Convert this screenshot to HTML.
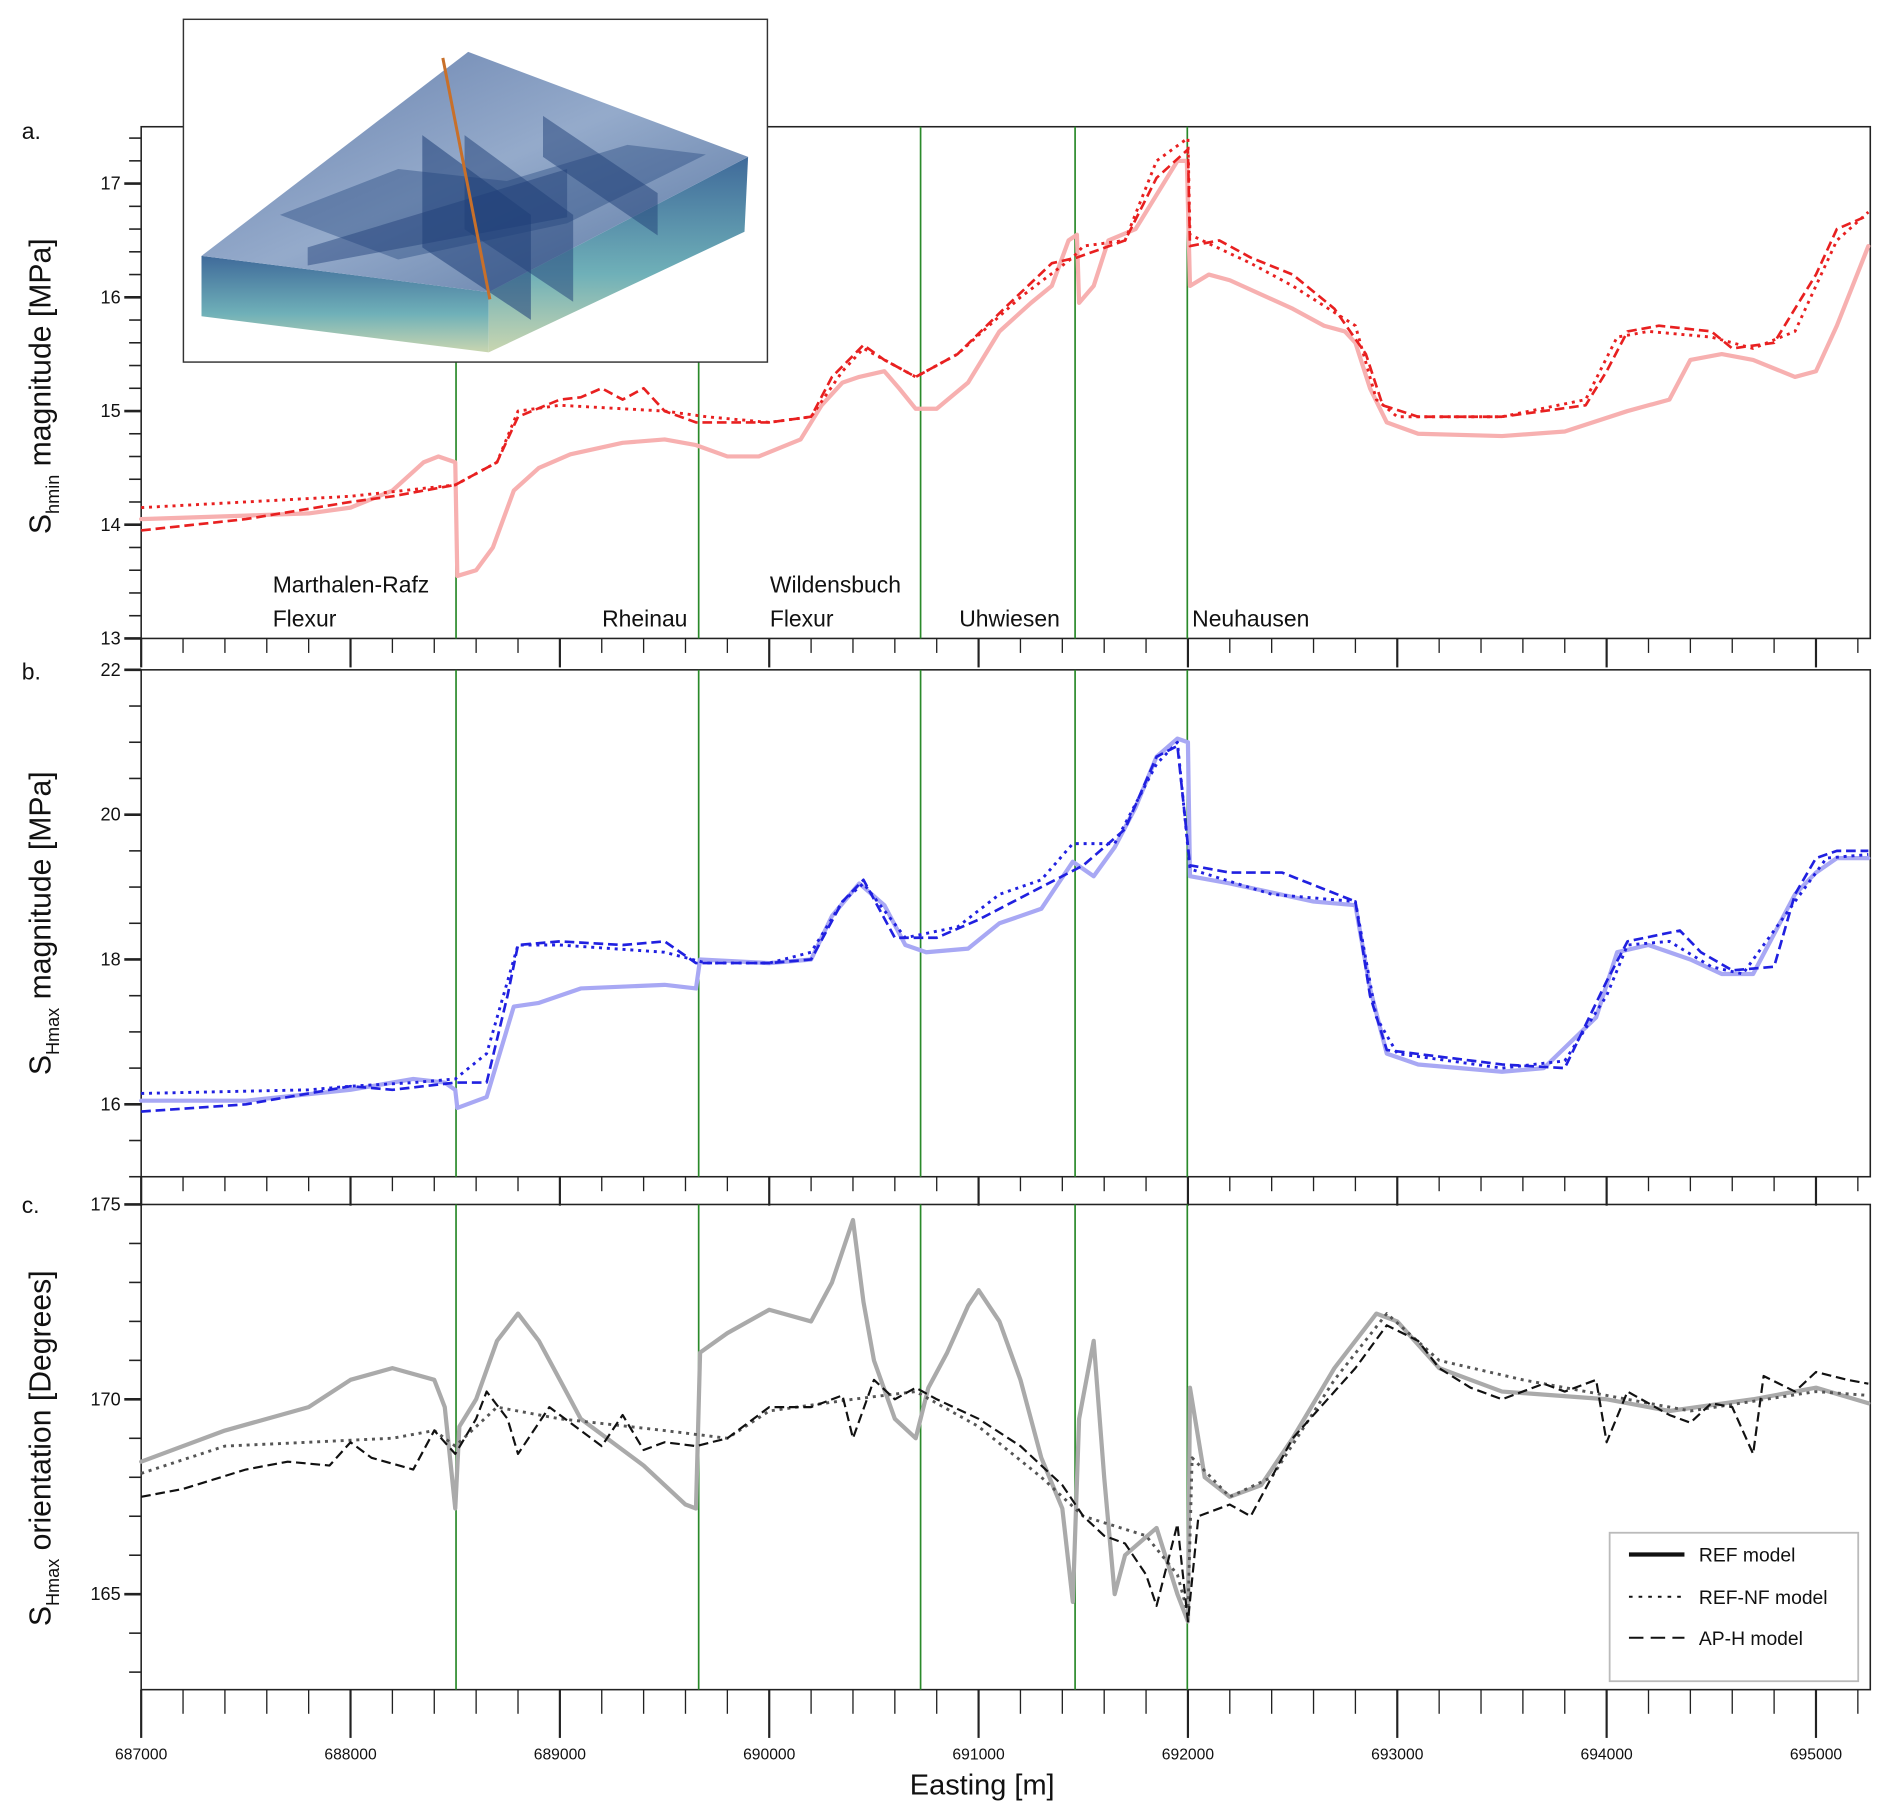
<!DOCTYPE html>
<html><head><meta charset="utf-8"><style>
html,body{margin:0;padding:0;background:#fff}
svg{display:block}
text{font-family:"Liberation Sans","DejaVu Sans",sans-serif}
</style></head><body>
<svg id="chart" xmlns="http://www.w3.org/2000/svg" width="1892" height="1820" viewBox="0 0 1568 1508" preserveAspectRatio="none">
<rect width="1568" height="1508" fill="#fff"/>
<g id="layer"></g>
<g id="inset">
  <defs>
    <linearGradient id="sideG" x1="0" y1="0" x2="0" y2="1">
      <stop offset="0" stop-color="#3f6a9a"/><stop offset="0.6" stop-color="#6fb0b8"/><stop offset="1" stop-color="#c9d6b0"/>
    </linearGradient>
    <linearGradient id="topG" x1="0" y1="0" x2="1" y2="1">
      <stop offset="0" stop-color="#5d78a8"/><stop offset="0.5" stop-color="#8fa6c8"/><stop offset="1" stop-color="#4f6e9c"/>
    </linearGradient>
  </defs>
  <rect x="152" y="16" width="484" height="284" fill="#fff" stroke="#333" stroke-width="1.2"/>
  <polygon points="167,212 405,242 405,292 167,262" fill="url(#sideG)"/>
  <polygon points="405,242 620,130 617,192 405,292" fill="url(#sideG)"/>
  <polygon points="167,212 388,43 620,130 405,242" fill="url(#topG)" opacity="0.95"/>
  <polygon points="232,178 330,140 420,150 520,120 585,128 470,185 330,215" fill="#2e4f86" opacity="0.45"/>
  <polygon points="350,112 440,178 440,265 350,205" fill="#1f3f78" opacity="0.55"/>
  <polygon points="385,112 475,178 475,250 385,190" fill="#1f3f78" opacity="0.5"/>
  <polygon points="450,96 545,160 545,195 450,130" fill="#1f3f78" opacity="0.5"/>
  <polygon points="255,205 470,140 470,180 255,220" fill="#1f3f78" opacity="0.45"/>
  <line x1="367" y1="48" x2="406" y2="248" stroke="#c8702a" stroke-width="2.5"/>
</g>
</svg>
<script>
// ---------- data ----------
const faultEastings = [688504, 689663, 690723, 691461, 691997];
const faultNames = ["Marthalen-Rafz Flexur","Rheinau","Wildensbuch Flexur","Uhwiesen","Neuhausen"];
const xTicks = [687000,688000,689000,690000,691000,692000,693000,694000,695000];

const aRefX=[687000,687500,687800,688000,688200,688350,688420,688500,688510,688600,688680,688780,688900,689050,689300,689500,689650,689800,689950,690150,690250,690350,690430,690550,690620,690700,690800,690950,691100,691250,691350,691430,691470,691480,691550,691620,691750,691850,691950,691995,692010,692100,692200,692500,692650,692750,692800,692870,692950,693100,693500,693800,694100,694300,694400,694550,694700,694900,695000,695100,695250];
const aRefY=[14.05,14.08,14.1,14.15,14.3,14.55,14.6,14.55,13.55,13.6,13.8,14.3,14.5,14.62,14.72,14.75,14.7,14.6,14.6,14.75,15.05,15.25,15.3,15.35,15.2,15.02,15.02,15.25,15.7,15.95,16.1,16.5,16.55,15.95,16.1,16.5,16.6,16.9,17.2,17.2,16.1,16.2,16.15,15.9,15.75,15.7,15.6,15.2,14.9,14.8,14.78,14.82,15.0,15.1,15.45,15.5,15.45,15.3,15.35,15.75,16.45];
const aNfX=[687000,688000,688500,688700,688800,689000,689500,689700,690000,690200,690350,690450,690600,690700,690900,691200,691450,691500,691700,691850,692000,692010,692300,692500,692800,692900,693000,693500,693900,694050,694200,694500,694700,694900,695100,695250];
const aNfY=[14.15,14.25,14.35,14.55,15.0,15.05,15.0,14.95,14.9,14.95,15.35,15.55,15.4,15.3,15.5,16.0,16.35,16.45,16.5,17.2,17.4,16.55,16.3,16.1,15.75,15.1,14.95,14.95,15.1,15.65,15.7,15.65,15.55,15.7,16.5,16.75];
const aApX=[687000,687500,688000,688200,688500,688700,688800,689000,689100,689200,689300,689400,689500,689650,690000,690200,690300,690450,690550,690700,690900,691150,691350,691470,691700,691850,692000,692010,692150,692300,692500,692700,692850,692930,693100,693500,693900,694000,694100,694250,694500,694600,694800,694900,695000,695100,695250];
const aApY=[13.95,14.05,14.2,14.25,14.35,14.55,14.95,15.1,15.12,15.2,15.1,15.2,15.0,14.9,14.9,14.95,15.3,15.58,15.45,15.3,15.5,15.95,16.3,16.35,16.5,17.05,17.3,16.45,16.5,16.35,16.2,15.9,15.5,15.05,14.95,14.95,15.05,15.35,15.7,15.75,15.7,15.55,15.6,15.9,16.2,16.6,16.72];

const bRefX=[687000,687500,688000,688300,688450,688500,688510,688650,688780,688900,689100,689500,689650,689670,690000,690200,690300,690430,690550,690650,690750,690950,691100,691300,691450,691550,691650,691750,691850,691950,692000,692010,692200,692600,692800,692870,692950,693100,693500,693700,693950,694050,694200,694400,694550,694700,694900,695000,695100,695250];
const bRefY=[16.05,16.05,16.2,16.35,16.3,16.2,15.95,16.1,17.35,17.4,17.6,17.65,17.6,18.0,17.95,18.0,18.6,19.05,18.75,18.2,18.1,18.15,18.5,18.7,19.35,19.15,19.55,20.1,20.8,21.05,21.0,19.15,19.05,18.8,18.75,17.6,16.7,16.55,16.45,16.5,17.2,18.1,18.2,18.0,17.8,17.8,18.9,19.2,19.4,19.4];
const bNfX=[687000,687800,688000,688300,688500,688650,688800,689000,689500,689700,690000,690200,690350,690450,690650,690900,691100,691300,691450,691650,691850,691950,692010,692400,692800,692900,693000,693500,693800,694000,694100,694300,694500,694650,694900,695050,695250];
const bNfY=[16.15,16.2,16.25,16.3,16.35,16.7,18.2,18.2,18.1,17.95,17.95,18.1,18.8,19.05,18.3,18.45,18.9,19.1,19.6,19.6,20.7,21.0,19.25,18.9,18.8,17.2,16.7,16.5,16.6,17.5,18.2,18.25,17.9,17.8,18.8,19.4,19.45];
const bApX=[687000,687500,688000,688200,688500,688650,688750,688800,689000,689300,689500,689650,690000,690200,690350,690450,690600,690800,691000,691300,691500,691700,691850,691950,692010,692200,692450,692800,692870,692950,693500,693800,694000,694100,694350,694450,694600,694800,694900,695000,695100,695250];
const bApY=[15.9,16.0,16.25,16.2,16.3,16.3,17.5,18.2,18.25,18.2,18.25,17.95,17.95,18.0,18.8,19.1,18.3,18.3,18.55,19.0,19.3,19.8,20.8,20.95,19.3,19.2,19.2,18.8,17.5,16.75,16.55,16.5,17.7,18.25,18.4,18.1,17.85,17.9,18.9,19.4,19.5,19.5];

const cRefX=[687000,687400,687800,688000,688200,688400,688450,688500,688520,688600,688700,688800,688900,689000,689100,689400,689600,689650,689670,689800,690000,690200,690300,690400,690450,690500,690600,690700,690760,690850,690950,691000,691100,691200,691300,691400,691450,691480,691550,691600,691650,691700,691850,691950,692000,692010,692080,692200,692350,692500,692700,692900,693000,693200,693500,694000,694300,694700,695000,695250];
const cRefY=[168.4,169.2,169.8,170.5,170.8,170.5,169.8,167.2,169.3,170.0,171.5,172.2,171.5,170.5,169.5,168.3,167.3,167.2,171.2,171.7,172.3,172.0,173.0,174.6,172.5,171.0,169.5,169.0,170.3,171.2,172.4,172.8,172.0,170.5,168.5,167.2,164.8,169.5,171.5,168.0,165.0,166.0,166.7,165.0,164.3,170.3,168.0,167.5,167.8,169.0,170.8,172.2,172.0,170.8,170.2,170.0,169.7,170.0,170.3,169.9];
const cNfX=[687000,687400,687800,688200,688400,688500,688700,689000,689500,689800,690000,690400,690700,691000,691300,691500,691800,691950,692000,692020,692200,692400,692700,692950,693200,693600,694000,694400,695000,695250];
const cNfY=[168.1,168.8,168.9,169.0,169.2,168.8,169.8,169.5,169.2,169.0,169.7,170.0,170.2,169.3,168.0,167.0,166.5,165.5,164.5,168.5,167.5,168.0,170.5,172.2,171.0,170.5,170.1,169.7,170.2,170.1];
const cApX=[687000,687200,687500,687700,687900,688000,688100,688300,688400,688500,688600,688650,688750,688800,688950,689100,689200,689300,689400,689500,689650,689800,690000,690200,690350,690400,690500,690600,690700,690800,691000,691200,691400,691500,691600,691700,691800,691850,691950,692000,692050,692200,692300,692500,692800,692950,693100,693200,693350,693500,693700,693800,693950,694000,694100,694300,694400,694500,694600,694700,694750,694900,695000,695150,695250];
const cApY=[167.5,167.7,168.2,168.4,168.3,168.9,168.5,168.2,169.2,168.6,169.5,170.2,169.5,168.6,169.8,169.2,168.8,169.6,168.7,168.9,168.8,169.0,169.8,169.8,170.1,169.0,170.5,170.0,170.3,170.0,169.5,168.8,167.8,167.0,166.5,166.3,165.5,164.7,166.8,164.3,167.0,167.3,167.0,169.0,170.8,171.9,171.5,170.8,170.3,170.0,170.4,170.2,170.5,168.9,170.2,169.6,169.4,169.9,169.8,168.6,170.6,170.2,170.7,170.5,170.4];

// ---------- drawing ----------
const NS="http://www.w3.org/2000/svg";
const layer=document.getElementById('layer');
const X0=117,X1=1550;
function sx(e){return 117+(e-687000)*0.1735;}
function mk(tag,attrs,parent){const el=document.createElementNS(NS,tag);for(const k in attrs)el.setAttribute(k,attrs[k]);(parent||layer).appendChild(el);return el;}

const panels=[
 {id:'a',top:105,bot:529,vmin:13,vmax:17.5,major:1,minor:0.2,lab:'a.',labY:115,col:'#f08080'},
 {id:'b',top:555,bot:975,vmin:15,vmax:22,major:2,minor:0.5,lab:'b.',labY:563,col:'#9898f0'},
 {id:'c',top:998,bot:1400,vmin:162.55,vmax:175,major:5,minor:1,lab:'c.',labY:1005,col:'#aaa'}
];
function sy(p,v){return p.bot-(v-p.vmin)/(p.vmax-p.vmin)*(p.bot-p.top);}

function drawSeries(p,xs,ys,color,width,dash,name){
  let d='';
  for(let i=0;i<xs.length;i++){d+=(i?'L':'M')+sx(xs[i]).toFixed(1)+','+sy(p,ys[i]).toFixed(1);}
  const el=mk('path',{d:d,fill:'none',stroke:color,'stroke-width':width,'stroke-linejoin':'round','stroke-linecap':dash?'butt':'round'});
  if(dash) el.setAttribute('stroke-dasharray',dash);
  
  
}

panels.forEach(p=>{
  const g=mk('rect',{x:X0,y:p.top,width:X1-X0,height:p.bot-p.top,fill:'none',stroke:'#222','stroke-width':1.3});
  
  
  const pl=mk('text',{x:18,y:p.labY,'font-size':19,fill:'#111'});pl.textContent=p.lab;
  
  
  // y ticks
  const n=Math.round((p.vmax-p.vmin)/p.minor)+2;
  for(let k=Math.ceil(p.vmin/p.minor);k*p.minor<=p.vmax+1e-6;k++){
    const v=k*p.minor;const y=sy(p,v);
    const isMaj=Math.abs(v/p.major-Math.round(v/p.major))<1e-6;
    mk('line',{x1:X0-(isMaj?14:10),x2:X0,y1:y,y2:y,stroke:'#222','stroke-width':isMaj?2.2:1.3});
    if(isMaj){
      const t=mk('text',{x:X0-17,y:y+5,'font-size':15,'text-anchor':'end',fill:'#111'});
      t.textContent=String(Math.round(v));
      
      
    }
  }
  // x ticks below panel
  const majL=p.id==='c'?40:24, minL=p.id==='c'?20:12;
  for(let e=687000;e<=695250;e+=200){
    const x=sx(e);const isMaj=e%1000===0;
    mk('line',{x1:x,x2:x,y1:p.bot,y2:p.bot+(isMaj?majL:minL),stroke:'#222','stroke-width':isMaj?1.8:1.1});
  }
  // fault lines
  faultEastings.forEach((fe,i)=>{
    const l=mk('line',{x1:sx(fe),x2:sx(fe),y1:p.top,y2:p.bot,stroke:'#2a8a2a','stroke-width':1.4});
    
    
  });
});

const pa=panels[0],pb=panels[1],pc=panels[2];
drawSeries(pa,aRefX,aRefY,'#f7b0b0',3.5,null,'a-ref-model-line');
drawSeries(pa,aNfX,aNfY,'#e82020',2.4,'2.5,4','a-ref-nf-line');
drawSeries(pa,aApX,aApY,'#e82020',2.2,'8,4','a-ap-h-line');
drawSeries(pb,bRefX,bRefY,'#a8a8f4',3.5,null,'b-ref-model-line');
drawSeries(pb,bNfX,bNfY,'#2020e0',2.4,'2.5,4','b-ref-nf-line');
drawSeries(pb,bApX,bApY,'#2020e0',2.2,'8,4','b-ap-h-line');
drawSeries(pc,cRefX,cRefY,'#aaaaaa',3.5,null,'c-ref-model-line');
drawSeries(pc,cNfX,cNfY,'#555555',2.4,'2.5,4','c-ref-nf-line');
drawSeries(pc,cApX,cApY,'#111111',1.8,'8,4','c-ap-h-line');

// fault name labels
const fl=[["Marthalen-Rafz",226,491],["Flexur",226,519],["Rheinau",499,519],["Wildensbuch",638,491],["Flexur",638,519],["Uhwiesen",795,519],["Neuhausen",988,519]];
fl.forEach(f=>{const t=mk('text',{x:f[1],y:f[2],'font-size':19,fill:'#111'});t.textContent=f[0];
  
  });

// x tick labels
xTicks.forEach(e=>{const t=mk('text',{x:sx(e),y:1458,'font-size':13,'text-anchor':'middle',fill:'#111'});t.textContent=String(e);
  
  });
const xt=mk('text',{x:814,y:1487,'font-size':24,'text-anchor':'middle',fill:'#111'});xt.textContent='Easting [m]';



// y axis titles
function yTitle(cy,main,sub,rest,name){
  const t=mk('text',{transform:'translate(42,'+cy+') rotate(-90)','font-size':25,'text-anchor':'middle',fill:'#111'});
  const t1=document.createElementNS(NS,'tspan');t1.textContent=main;t.appendChild(t1);
  const t2=document.createElementNS(NS,'tspan');t2.setAttribute('font-size','15');t2.setAttribute('dy','7');t2.textContent=sub;t.appendChild(t2);
  const t3=document.createElementNS(NS,'tspan');t3.setAttribute('dy','-7');t3.textContent=rest;t.appendChild(t3);
  
  
}
yTitle(320,'S','hmin',' magnitude [MPa]','y-axis-title-a');
yTitle(765,'S','Hmax',' magnitude [MPa]','y-axis-title-b');
yTitle(1200,'S','Hmax',' orientation [Degrees]','y-axis-title-c');

// legend
const lg=mk('g',{});


mk('rect',{x:1334,y:1270,width:206,height:123,fill:'#fff',stroke:'#bbb','stroke-width':1.5},lg);
const legItems=[["REF model",null,3.5,1288],["REF-NF model","3,5",1.6,1323],["AP-H model","12,6",1.6,1357]];
legItems.forEach(it=>{
  const l=mk('line',{x1:1350,x2:1396,y1:it[3],y2:it[3],stroke:'#111','stroke-width':it[2]},lg);
  if(it[1]) l.setAttribute('stroke-dasharray',it[1]);
  const t=mk('text',{x:1408,y:it[3]+6,'font-size':16,fill:'#111'},lg);t.textContent=it[0];
  
  
});
</script>
</body></html>
